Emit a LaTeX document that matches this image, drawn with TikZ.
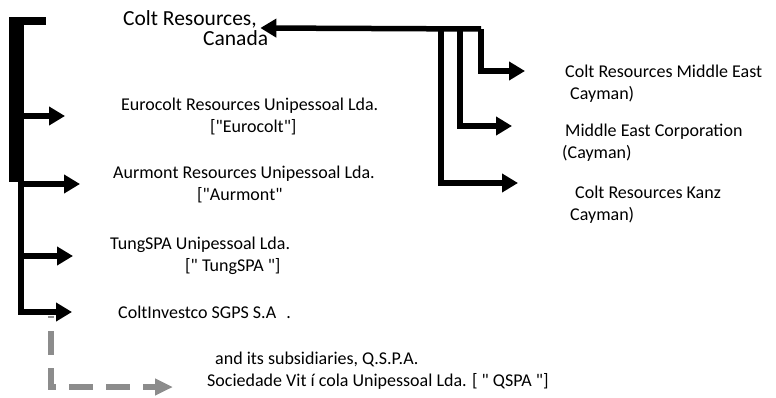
\documentclass[tikz,border=0pt]{standalone}
\usepackage{fontspec}
\setmainfont{Carlito}[Ligatures=TeXOff]
\usetikzlibrary{arrows.meta,positioning,calc}

\begin{document}
\begin{tikzpicture}[
  x=1pt, y=-1pt,
  every node/.style={font=\fontsize{18}{22}\selectfont, inner sep=0pt, anchor=west, align=left},
  link/.style={line width=5.5pt, -{Triangle[length=16pt,width=18pt]}},
  owned/.style={line width=6pt, draw=black!45, dash pattern=on 24pt off 13pt, dash phase=22pt,
    -{Triangle[length=18pt,width=16pt,fill=black!45]}}
]
\useasboundingbox (0,0) rectangle (776,398);

\node[font=\fontsize{21.5}{20}\selectfont] (colt) at (123,28) {Colt Resources,\\\hspace*{80pt}Canada};

\node (euro) at (121,116) {Eurocolt Resources Unipessoal Lda.\\\hspace*{89pt}["Eurocolt"]};
\node (aur) at (113,184) {Aurmont Resources Unipessoal Lda.\\\hspace*{84pt}["Aurmont"};
\node (tung) at (110,256) {TungSPA Unipessoal Lda.\\\hspace*{75pt}[" TungSPA "]};
\node (invest) at (118,312) {ColtInvestco SGPS S.A\hspace{10pt}.};
\node (qspa) at (207,371) {\hspace*{8pt}and its subsidiaries, Q.S.P.A.\\Sociedade Vit í cola Unipessoal Lda. [ " QSPA "]};

\node (me) at (565,84) {Colt Resources Middle East\\\hspace*{5pt}Cayman)};
\node (mec) at (562,143) {\hspace*{3pt}Middle East Corporation\\(Cayman)};
\node (kanz) at (570,205) {\hspace*{5pt}Colt Resources Kanz\\Cayman)};

\coordinate (trunk) at (21,21);
\coordinate (sub) at (51,316);
\coordinate (bus) at (481,29);
\coordinate (j2) at (460,29);
\coordinate (j3) at (441,29);

\fill (9,17) rectangle (24,182);
\draw[line width=8pt] (9,21) -- (46,21);

\draw[owned, shorten >=34pt] (sub) |- ([yshift=-16pt]qspa.west);

\draw[link, shorten >=56pt] (trunk |- euro.west) -- (euro.west);
\draw[link, shorten >=33pt] (trunk |- aur.west) -- (aur.west);
\draw[link, shorten >=37pt] (trunk |- tung.west) -- (tung.west);
\draw[link, shorten >=46pt] (trunk) |- (invest.west);

\draw[link] (bus) -- ([xshift=-8pt]colt.east);
\draw[link, shorten >=40pt] (bus) |- ([yshift=13pt]me.west);
\draw[link, shorten >=50pt] (j2) |- ([yshift=17pt]mec.west);
\draw[link, shorten >=52pt] (j3) |- ([yshift=22pt]kanz.west);

\end{tikzpicture}
\end{document}
